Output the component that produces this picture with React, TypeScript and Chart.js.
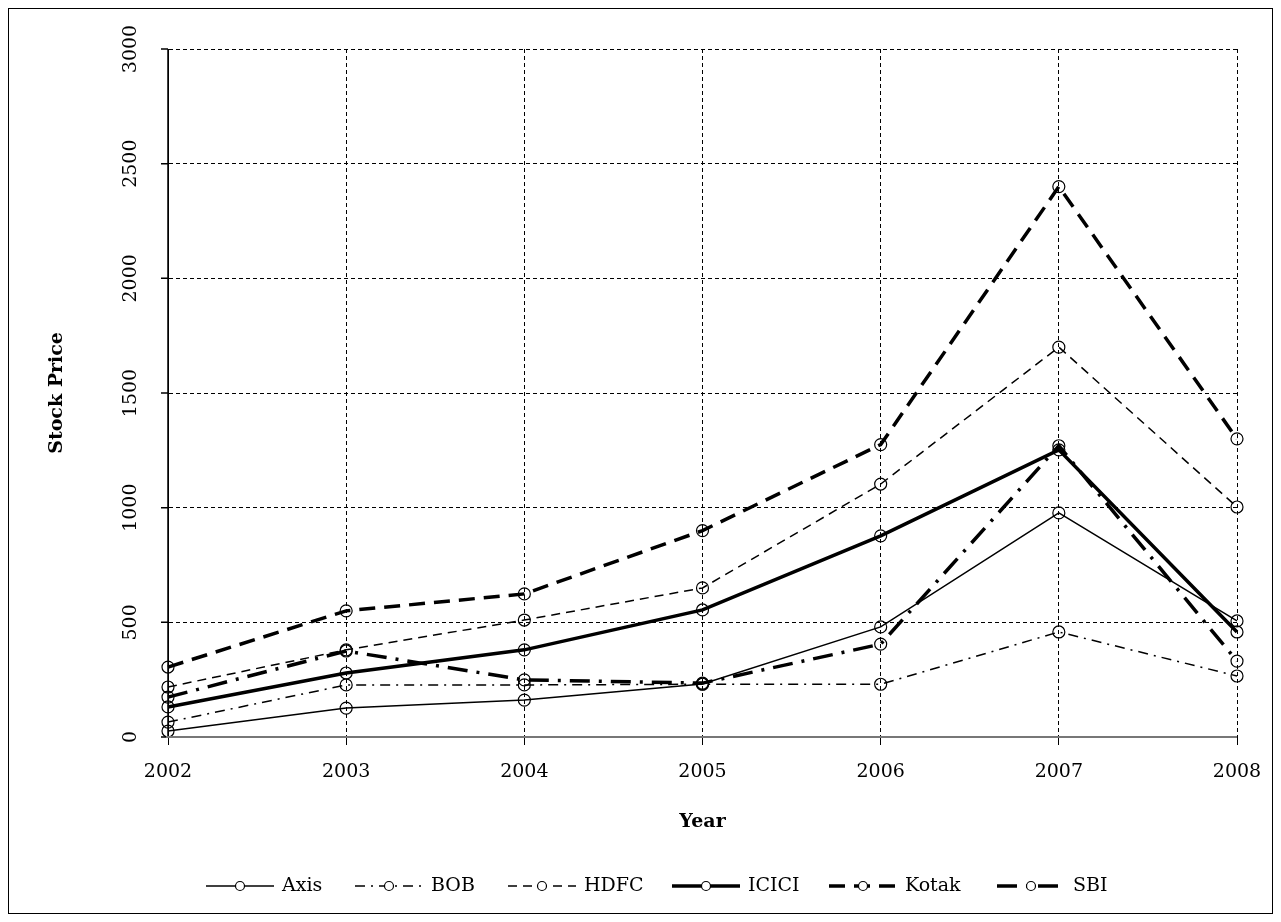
import React, { useEffect, useRef } from 'react';
import Chart from 'chart.js/auto';

const years = ['2002', '2003', '2004', '2005', '2006', '2007', '2008'];
const yTicks = [0, 500, 1000, 1500, 2000, 2500, 3000];

const axis = [26, 126, 161, 231, 480, 977, 506];
const bob = [65, 227, 227, 230, 230, 458, 266];
const hdfc = [218, 380, 510, 650, 1103, 1700, 1003];
const icici = [131, 279, 380, 554, 877, 1252, 458];
const kotak = [305, 550, 624, 900, 1275, 2400, 1300];
const sbi = [174, 375, 249, 235, 405, 1270, 331];

const FONT = '"DejaVu Serif", "Liberation Serif", serif';

const series = [
  { label: 'Axis', data: axis, width: 1.5, dash: [] as number[] },
  { label: 'BOB', data: bob, width: 1.5, dash: [10, 6, 2, 6] },
  { label: 'HDFC', data: hdfc, width: 1.5, dash: [9, 6] },
  { label: 'ICICI', data: icici, width: 3.5, dash: [] as number[] },
  { label: 'Kotak', data: kotak, width: 3.5, dash: [16, 9] },
  { label: 'SBI', data: sbi, width: 3.5, dash: [20, 9, 3, 9] },
];

const legendStarts = [206, 355, 508, 672, 829, 997];

const textPlugin = {
  id: 'textPlugin',
  afterDraw(chart: any) {
    const ctx = chart.ctx;
    const ys = chart.scales.y;
    const area = chart.chartArea;
    ctx.save();
    ctx.strokeStyle = '#000';
    ctx.lineWidth = 1.5;
    ctx.beginPath();
    ctx.moveTo(area.left, area.top);
    ctx.lineTo(area.left, area.bottom);
    yTicks.forEach((v) => {
      const y = ys.getPixelForValue(v);
      ctx.moveTo(area.left - 7, y);
      ctx.lineTo(area.left, y);
    });
    ctx.stroke();
    ctx.strokeStyle = '#777';
    ctx.lineWidth = 2;
    ctx.beginPath();
    ctx.moveTo(area.left - 2, area.bottom);
    ctx.lineTo(area.right, area.bottom);
    ctx.stroke();

    ctx.fillStyle = '#000';
    ctx.font = `19px ${FONT}`;
    ctx.textAlign = 'center';
    ctx.textBaseline = 'middle';
    yTicks.forEach((v) => {
      ctx.save();
      ctx.translate(area.left - 37, ys.getPixelForValue(v));
      ctx.rotate(-Math.PI / 2);
      ctx.fillText(String(v), 0, 0);
      ctx.restore();
    });
    ctx.font = `bold 19px ${FONT}`;
    ctx.save();
    ctx.translate(57, (area.top + area.bottom) / 2);
    ctx.rotate(-Math.PI / 2);
    ctx.fillText('Stock Price', 0, 0);
    ctx.restore();
    ctx.fillText('Year', (area.left + area.right) / 2, 822);

    ctx.font = `19px ${FONT}`;
    ctx.textAlign = 'left';
    series.forEach((s, i) => {
      const x0 = legendStarts[i];
      const y0 = 886;
      ctx.strokeStyle = '#000';
      ctx.lineWidth = s.width;
      ctx.setLineDash(s.dash);
      ctx.beginPath();
      ctx.moveTo(x0, y0);
      ctx.lineTo(x0 + 68, y0);
      ctx.stroke();
      ctx.setLineDash([]);
      ctx.lineWidth = 1.2;
      ctx.fillStyle = '#fff';
      ctx.beginPath();
      ctx.arc(x0 + 34, y0, 4.5, 0, Math.PI * 2);
      ctx.fill();
      ctx.stroke();
      ctx.fillStyle = '#000';
      ctx.fillText(s.label, x0 + 76, y0);
    });
    ctx.restore();
  },
};

const App: React.FC = () => {
  const canvasRef = useRef<HTMLCanvasElement>(null);
  const chartRef = useRef<Chart | null>(null);

  useEffect(() => {
    document.body.style.margin = '0';
    if (!canvasRef.current) return;
    const ctx = canvasRef.current.getContext('2d');
    if (!ctx) return;
    if (chartRef.current) chartRef.current.destroy();

    chartRef.current = new Chart(ctx, {
      type: 'line',
      data: {
        labels: years,
        datasets: series.map((s) => ({
          label: s.label,
          data: s.data,
          borderColor: '#000',
          borderWidth: s.width,
          borderDash: s.dash,
          pointRadius: 6,
          pointBorderWidth: 1.2,
          pointBorderColor: '#000',
          pointBackgroundColor: 'rgba(255,255,255,0)',
          tension: 0,
          fill: false,
        })),
      },
      options: {
        animation: false,
        responsive: true,
        maintainAspectRatio: false,
        layout: { padding: { left: 8, top: 49, right: 44, bottom: 0 } },
        plugins: { legend: { display: false }, tooltip: { enabled: false } },
        scales: {
          x: {
            offset: false,
            afterFit: (s: any) => { s.height = 185; },
            grid: {
              color: '#000',
              tickBorderDash: [],
              tickLength: 8,
              tickColor: '#000',
            } as any,
            border: { color: '#000', width: 1, dash: [4, 3] },
            ticks: { color: '#000', font: { family: FONT, size: 19 }, padding: 16 },
          },
          y: {
            min: 0,
            max: 3000,
            afterFit: (s: any) => { s.width = 160; },
            grid: { color: '#000', drawTicks: false } as any,
            border: { color: '#000', width: 1, dash: [4, 3] },
            ticks: { display: false, stepSize: 500 },
          },
        },
      },
      plugins: [textPlugin],
    });

    return () => {
      if (chartRef.current) {
        chartRef.current.destroy();
        chartRef.current = null;
      }
    };
  }, []);

  return (
    <div style={{ width: 1281, height: 922, position: 'relative' }}>
      <canvas ref={canvasRef}></canvas>
      <div style={{ position: 'absolute', left: 8, top: 8, right: 8, bottom: 8, border: '1.5px solid #000', pointerEvents: 'none' }} />
    </div>
  );
};

export default App;
